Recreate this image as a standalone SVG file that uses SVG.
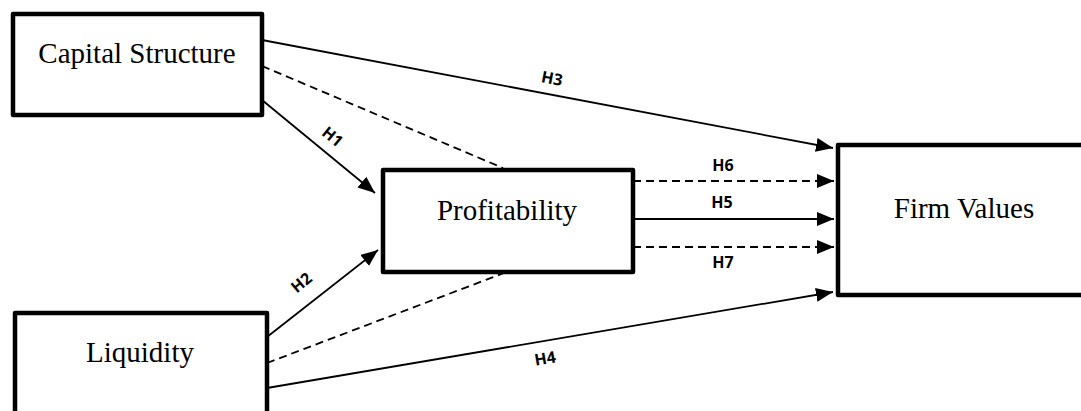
<svg xmlns="http://www.w3.org/2000/svg" width="1081" height="411" viewBox="0 0 1081 411">
<style>
.box{fill:#fff;stroke:#000;stroke-width:4.5;stroke-linejoin:round}
.nt{font-family:"Liberation Serif","Times New Roman",serif;font-size:29px;fill:#000;text-anchor:middle}
.ln{stroke:#000;stroke-width:1.8;fill:none}
.ds{stroke-dasharray:8,5}
.lb{font-family:"Open Sans","Liberation Sans",sans-serif;font-weight:bold;font-size:16px;fill:#000;text-anchor:middle}
</style>
<defs>
<marker id="ar" markerUnits="userSpaceOnUse" markerWidth="18" markerHeight="14" refX="17" refY="7" orient="auto">
<path d="M0,0 L17,7 L0,14 z" fill="#000"/>
</marker>
</defs>
<rect width="1081" height="411" fill="#fff"/>
<g id="connectors">
<line class="ln" x1="262" y1="40" x2="833" y2="148" marker-end="url(#ar)"/>
<line class="ln ds" x1="262" y1="66" x2="503" y2="168"/>
<line class="ln" x1="262" y1="100" x2="375" y2="193" marker-end="url(#ar)"/>
<line class="ln" x1="267" y1="337" x2="378" y2="250" marker-end="url(#ar)"/>
<line class="ln ds" x1="267" y1="363" x2="504" y2="273"/>
<line class="ln" x1="267" y1="388" x2="833" y2="292" marker-end="url(#ar)"/>
<line class="ln ds" x1="633" y1="181" x2="834" y2="181" marker-end="url(#ar)"/>
<line class="ln" x1="633" y1="219" x2="834" y2="219" marker-end="url(#ar)"/>
<line class="ln ds" x1="633" y1="247" x2="834" y2="247" marker-end="url(#ar)"/>
<text class="lb" transform="translate(551,84) rotate(10.7)">H3</text>
<text class="lb" transform="translate(329,141) rotate(39.5)">H1</text>
<text class="lb" transform="translate(305,287) rotate(-40)">H2</text>
<text class="lb" transform="translate(546,364) rotate(-9.6)">H4</text>
<text class="lb" x="723" y="171">H6</text>
<text class="lb" x="722" y="208">H5</text>
<text class="lb" x="723" y="268">H7</text>
</g>
<g id="capital-structure">
<rect class="box" x="13" y="14" width="249" height="101"/>
<text class="nt" x="137" y="63">Capital Structure</text>
</g>
<g id="profitability">
<rect class="box" x="383" y="170" width="250" height="102"/>
<text class="nt" x="507" y="220">Profitability</text>
</g>
<g id="firm-values">
<rect class="box" x="838" y="145" width="260" height="150"/>
<text class="nt" x="964" y="218">Firm Values</text>
</g>
<g id="liquidity">
<rect class="box" x="15" y="313" width="252" height="120"/>
<text class="nt" x="140" y="362">Liquidity</text>
</g>
</svg>
